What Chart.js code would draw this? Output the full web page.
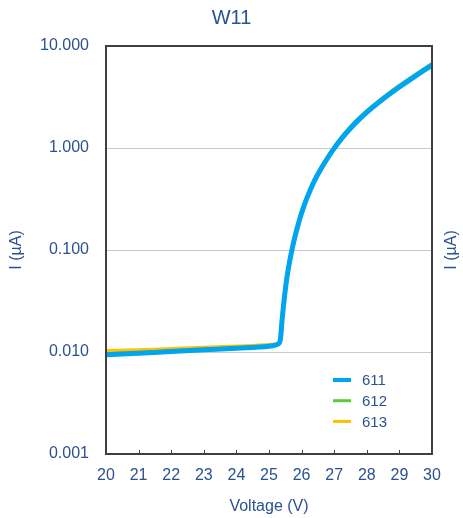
<!DOCTYPE html>
<html>
<head>
<meta charset="utf-8">
<script src="https://cdn.jsdelivr.net/npm/chart.js@4.4.0/dist/chart.umd.min.js"></script>
<style>
    html, body { margin: 0; padding: 0; background: #fff; }
</style>
</head>
<body>
<canvas id="iv-chart" width="463" height="518"></canvas>
<script>
// Sweep voltage (V) and leakage current (uA) per device
const voltage = [20, 21, 22, 23, 24, 25, 25.2, 25.3, 25.35, 25.4, 25.45, 25.5, 25.55, 25.6, 25.7, 25.8, 25.9, 26.0, 26.1, 26.2, 26.4, 26.6, 26.8, 27.0, 27.25, 27.5, 27.75, 28.0, 28.5, 29.0, 29.5, 30.0];
const i611 = [0.0094, 0.0097, 0.0101, 0.0105, 0.0109, 0.0114, 0.0117, 0.0121, 0.0133, 0.0204, 0.0295, 0.0407, 0.0537, 0.0676, 0.0989, 0.1365, 0.180, 0.230, 0.285, 0.345, 0.481, 0.628, 0.798, 0.991, 1.262, 1.561, 1.888, 2.239, 3.02, 3.958, 5.10, 6.49];
const i612 = [0.0096, 0.0099, 0.0103, 0.0106, 0.0110, 0.0115, 0.0118, 0.0122, 0.0137, 0.0212, 0.0307, 0.0423, 0.0558, 0.0703, 0.1029, 0.1420, 0.187, 0.239, 0.296, 0.359, 0.500, 0.653, 0.830, 1.03, 1.31, 1.62, 1.96, 2.33, 3.14, 4.12, 5.30, 6.75];
const i613 = [0.0102, 0.0104, 0.0107, 0.0110, 0.0113, 0.0117, 0.0119, 0.0122, 0.0134, 0.0206, 0.0297, 0.0409, 0.0540, 0.0680, 0.0994, 0.137, 0.181, 0.231, 0.286, 0.347, 0.483, 0.630, 0.800, 0.994, 1.27, 1.57, 1.89, 2.25, 3.03, 3.97, 5.11, 6.51];

const seriesNames = ['611', '612', '613'];
const xTicks = [20, 21, 22, 23, 24, 25, 26, 27, 28, 29, 30];
const yTicks = [0.001, 0.01, 0.1, 1, 10];

const TEXT = '#2a5290';
const FONT = "'Liberation Sans', Arial, sans-serif";

const toPoints = (ys) => voltage.map((v, i) => ({ x: v, y: ys[i] }));

// frame, inner tick marks, right-hand title and the in-plot legend
const decorations = {
    id: 'decorations',
    afterDatasetsDraw(chart) {
        const { ctx, chartArea: a, scales } = chart;
        ctx.save();
        ctx.strokeStyle = '#3f3f3f';
        ctx.lineWidth = 1;
        xTicks.forEach(v => {
            const px = Math.round(scales.x.getPixelForValue(v)) + 0.5;
            ctx.beginPath();
            ctx.moveTo(px, a.bottom);
            ctx.lineTo(px, a.bottom - 4);
            ctx.stroke();
        });
        ctx.lineWidth = 2;
        ctx.strokeRect(a.left, a.top, a.right - a.left, a.bottom - a.top);
        ctx.restore();
    },
    afterDraw(chart) {
        const { ctx, chartArea: a } = chart;
        ctx.save();
        ctx.fillStyle = TEXT;
        ctx.font = '16px ' + FONT;
        ctx.textAlign = 'center';
        ctx.textBaseline = 'middle';
        ctx.translate(452, (a.top + a.bottom) / 2);
        ctx.rotate(-Math.PI / 2);
        ctx.fillText('I (µA)', 0, 0);
        ctx.restore();

        ctx.save();
        ctx.font = '15px ' + FONT;
        ctx.textBaseline = 'middle';
        chart.data.datasets.forEach((ds, i) => {
            const y = 380 + i * 20.7;
            ctx.strokeStyle = ds.borderColor;
            ctx.lineWidth = i === 0 ? 4 : 3;
            ctx.beginPath();
            ctx.moveTo(333, y);
            ctx.lineTo(351, y);
            ctx.stroke();
            ctx.fillStyle = TEXT;
            ctx.fillText(ds.label, 362, y + 1);
        });
        ctx.restore();
    }
};

const ctx = document.getElementById('iv-chart').getContext('2d');
new Chart(ctx, {
    type: 'line',
    data: {
        datasets: [
            { label: seriesNames[0], data: toPoints(i611), borderColor: '#00a5f0', borderWidth: 5, yAxisID: 'y' },
            { label: seriesNames[1], data: toPoints(i612), borderColor: '#5cc93a', borderWidth: 3, yAxisID: 'y' },
            { label: seriesNames[2], data: toPoints(i613), borderColor: '#ffc000', borderWidth: 4, yAxisID: 'y' }
        ]
    },
    options: {
        responsive: false,
        animation: false,
        devicePixelRatio: 1,
        elements: {
            point: { radius: 0 },
            line: { cubicInterpolationMode: 'monotone', fill: false }
        },
        plugins: {
            legend: { display: false },
            tooltip: { enabled: false },
            title: {
                display: true,
                text: 'W11',
                color: TEXT,
                font: { family: FONT, size: 20, weight: 'normal' },
                padding: { top: 6, bottom: 16 }
            }
        },
        scales: {
            x: {
                type: 'linear',
                min: 20,
                max: 30,
                grid: { display: false, drawTicks: false },
                border: { display: false },
                afterBuildTicks: s => { s.ticks = xTicks.map(v => ({ value: v })); },
                ticks: { color: TEXT, font: { family: FONT, size: 16 }, padding: 12, maxRotation: 0 },
                title: {
                    display: true,
                    text: 'Voltage (V)',
                    color: TEXT,
                    font: { family: FONT, size: 16 },
                    padding: { top: 0, bottom: 2 }
                },
                afterFit: s => { s.height = 64; }
            },
            y: {
                type: 'logarithmic',
                min: 0.001,
                max: 10,
                grid: { color: '#c8c8c8', lineWidth: 1, drawTicks: false },
                border: { display: false },
                afterBuildTicks: s => { s.ticks = yTicks.map(v => ({ value: v })); },
                ticks: {
                    color: TEXT,
                    font: { family: FONT, size: 16 },
                    padding: 17,
                    callback: v => Number(v).toFixed(3)
                },
                title: {
                    display: true,
                    text: 'I (µA)',
                    color: TEXT,
                    font: { family: FONT, size: 16 },
                    padding: { top: 7, bottom: 0 }
                },
                afterFit: s => { s.width = 106; }
            },
            y2: {
                type: 'linear',
                position: 'right',
                grid: { display: false, drawTicks: false },
                border: { display: false },
                ticks: { display: false },
                afterFit: s => { s.width = 31; }
            }
        }
    },
    plugins: [decorations]
});
</script>
</body>
</html>
